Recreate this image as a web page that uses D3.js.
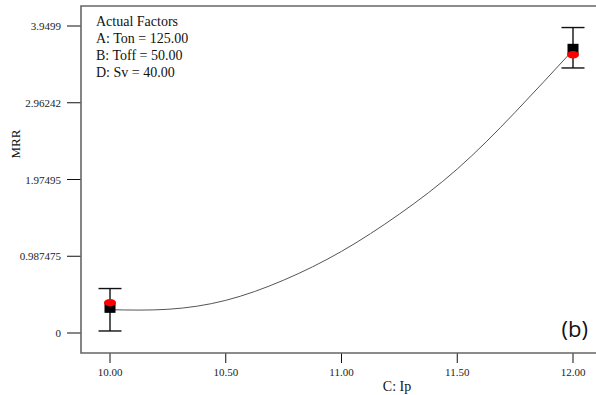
<!DOCTYPE html>
<html>
<head>
<meta charset="utf-8">
<script src="https://cdn.jsdelivr.net/npm/d3@7"></script>
<style>
  body { margin: 0; background: #fff; }
  svg { display: block; }
  .tickLabel { font-family: "Liberation Serif", "Times New Roman", serif; font-size: 11px; fill: #222; }
</style>
</head>
<body>
<div id="plot-container"></div>
<script>
// values
const yTicks = [0, 0.987475, 1.97495, 2.96242, 3.9499]
const yTickLabels = ["0", "0.987475", "1.97495", "2.96242", "3.9499"]
const xTicks = [10.0, 10.5, 11.0, 11.5, 12.0]
const xTickLabels = ["10.00", "10.50", "11.00", "11.50", "12.00"]
const curveIp = [10.0, 10.25, 10.5, 10.75, 11.0, 11.25, 11.5, 11.75, 12.0]
const curveMRR = [0.30, 0.305, 0.42, 0.68, 1.05, 1.53, 2.11, 2.84, 3.64]
const designIp = [10.0, 12.0]
const actualMRR = [0.33, 3.65]
const predictedMRR = [0.39, 3.58]
const barLow = [0.026, 3.41]
const barHigh = [0.572, 3.93]
const factorLines = ["Actual Factors", "A: Ton = 125.00", "B: Toff = 50.00", "D: Sv = 40.00"]

const svgWidth = 596
const svgHeight = 395
//frame of the plot area
const frame = { left: 81, top: 6, right: 596, bottom: 353 }

const svg = d3.select("#plot-container").append("svg")
  .attr("width", svgWidth)
  .attr("height", svgHeight)

const xScale = d3.scaleLinear().domain([10, 12]).range([110, 573])
const yScale = d3.scaleLinear().domain([0, 3.9499]).range([333, 26])

const serif = "'Liberation Serif', 'Times New Roman', serif"

//y ticks
const yAxis = svg.append("g")
yTicks.forEach((t, i) => {
  const y = yScale(t)
  yAxis.append("line").attr("x1", frame.left - 14).attr("x2", frame.left)
    .attr("y1", y).attr("y2", y).attr("stroke", "#111").attr("stroke-width", 1)
  yAxis.append("text").attr("class", "tickLabel")
    .attr("x", frame.left - 20).attr("y", y + 4)
    .attr("text-anchor", "end").text(yTickLabels[i])
})

//x ticks
const xAxis = svg.append("g")
xTicks.forEach((t, i) => {
  const x = xScale(t)
  xAxis.append("line").attr("x1", x).attr("x2", x)
    .attr("y1", frame.bottom).attr("y2", frame.bottom + 10).attr("stroke", "#111").attr("stroke-width", 1)
  xAxis.append("text").attr("class", "tickLabel")
    .attr("x", x).attr("y", 376)
    .attr("text-anchor", "middle").text(xTickLabels[i])
})

//frame: left, top, bottom
svg.append("path")
  .attr("d", `M${frame.right},${frame.top}H${frame.left}V${frame.bottom}H${frame.right}`)
  .attr("fill", "none").attr("stroke", "#666").attr("stroke-width", 1.6)

//axis titles
svg.append("text")
  .attr("transform", "translate(20,144) rotate(-90)")
  .attr("text-anchor", "middle")
  .style("font-family", serif).style("font-size", "13px").attr("fill", "#111")
  .text("MRR")
svg.append("text")
  .attr("x", 397).attr("y", 391)
  .attr("text-anchor", "middle")
  .style("font-family", serif).style("font-size", "14px").attr("fill", "#111")
  .text("C: Ip")

//actual factors box
const info = svg.append("g")
factorLines.forEach((s, i) => {
  info.append("text").attr("x", 96).attr("y", 26 + i * 17)
    .style("font-family", serif).style("font-size", "14px").attr("fill", "#111")
    .text(s)
})

//prediction curve
const line = d3.line()
  .x(d => xScale(d[0]))
  .y(d => yScale(d[1]))
  .curve(d3.curveNatural)
svg.append("path")
  .datum(curveIp.map((v, i) => [v, curveMRR[i]]))
  .attr("d", line)
  .attr("fill", "none").attr("stroke", "#555").attr("stroke-width", 1)

//error bars
designIp.forEach((v, i) => {
  const x = xScale(v)
  const g = svg.append("g").attr("stroke", "#111").attr("stroke-width", 1.4)
  g.append("line").attr("x1", x).attr("x2", x).attr("y1", yScale(barLow[i])).attr("y2", yScale(barHigh[i]))
  g.append("line").attr("x1", x - 11.5).attr("x2", x + 11.5).attr("y1", yScale(barLow[i])).attr("y2", yScale(barLow[i]))
  g.append("line").attr("x1", x - 11.5).attr("x2", x + 11.5).attr("y1", yScale(barHigh[i])).attr("y2", yScale(barHigh[i]))
})

//actual points (black squares)
svg.selectAll("rect.actual")
  .data(designIp.map((v, i) => [v, actualMRR[i]]))
  .enter().append("rect").attr("class", "actual")
  .attr("x", d => xScale(d[0]) - 5.5).attr("y", d => yScale(d[1]) - 5.5)
  .attr("width", 11).attr("height", 11).attr("fill", "#000")

//predicted points (red)
svg.selectAll("ellipse.pred")
  .data(designIp.map((v, i) => [v, predictedMRR[i]]))
  .enter().append("ellipse").attr("class", "pred")
  .attr("cx", d => xScale(d[0])).attr("cy", d => yScale(d[1]))
  .attr("rx", 6).attr("ry", 3.8).attr("fill", "#f00")

//panel label
svg.append("text")
  .attr("x", 588).attr("y", 337)
  .attr("text-anchor", "end")
  .style("font-family", "'Open Sans', 'Noto Sans', sans-serif").style("font-size", "22px").attr("fill", "#111")
  .text("(b)")
</script>
</body>
</html>
